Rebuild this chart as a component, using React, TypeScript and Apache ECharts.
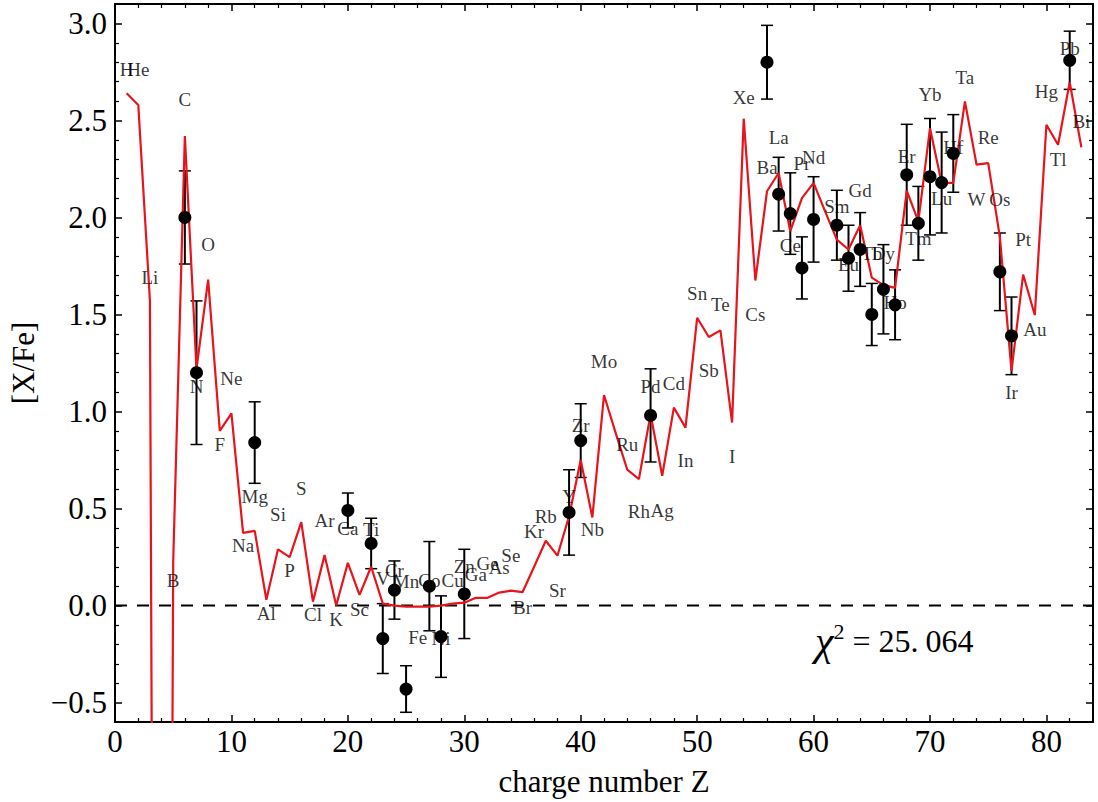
import React, { useEffect, useRef } from "react";
import * as echarts from "echarts";

const elements = ["H","He","Li","Be","B","C","N","O","F","Ne","Na","Mg","Al","Si","P","S","Cl","Ar","K","Ca","Sc","Ti","V","Cr","Mn","Fe","Co","Ni","Cu","Zn","Ga","Ge","As","Se","Br","Kr","Rb","Sr","Y","Zr","Nb","Mo","Tc","Ru","Rh","Pd","Ag","Cd","In","Sn","Sb","Te","I","Xe","Cs","Ba","La","Ce","Pr","Nd","Pm","Sm","Eu","Gd","Tb","Dy","Ho","Er","Tm","Yb","Lu","Hf","Ta","W","Re","Os","Ir","Pt","Au","Hg","Tl","Pb","Bi"];

// model [X/Fe] for Z = 1..83
const modelValues = [
  2.64, 2.58, 1.57, -13, 0.23, 2.42, 1.22, 1.68, 0.90, 0.99,
  0.375, 0.385, 0.03, 0.29, 0.25, 0.43, 0.02, 0.26, 0.0, 0.22,
  0.055, 0.20, 0.01, 0.0, -0.005, -0.005, -0.005, 0.0, 0.01, 0.015,
  0.04, 0.04, 0.067, 0.077, 0.069, 0.20, 0.334, 0.257, 0.46, 0.75,
  0.454, 1.085, 0.89, 0.70, 0.652, 0.986, 0.669, 1.02, 0.917, 1.483,
  1.384, 1.418, 0.943, 2.509, 1.675, 2.135, 2.229, 1.929, 2.10, 2.178,
  2.03, 1.886, 1.835, 1.96, 1.69, 1.651, 1.637, 2.138, 1.98, 2.46,
  2.178, 2.178, 2.598, 2.272, 2.28, 1.90, 1.209, 1.706, 1.497, 2.478,
  2.375, 2.697, 2.361
];

// element label heights (data units); null = no label
const labelY = [
  2.76, 2.76, 1.69, null, 0.13, 2.61, 1.13, 1.86, 0.83, 1.17,
  0.31, 0.56, -0.04, 0.47, 0.18, 0.605, -0.045, 0.44, -0.07, 0.395,
  -0.02, 0.39, 0.14, 0.18, 0.125, -0.165, 0.13, -0.17, 0.13, 0.20,
  0.16, 0.215, 0.195, 0.26, -0.01, 0.38, 0.46, 0.08, 0.56, 0.93,
  0.39, 1.26, null, 0.83, 0.485, 1.13, 0.49, 1.145, 0.745, 1.61,
  1.21, 1.55, 0.77, 2.62, 1.50, 2.26, 2.41, 1.855, 2.28, 2.31,
  null, 2.055, 1.76, 2.14, 1.815, 1.815, 1.56, 2.315, 1.89, 2.635,
  2.10, 2.36, 2.72, 2.09, 2.41, 2.09, 1.10, 1.885, 1.423, 2.65,
  2.30, 2.87, 2.495
];

// observed abundances
const obsZ = [6, 7, 12, 20, 22, 23, 24, 25, 27, 28, 30, 39, 40, 46, 56, 57, 58, 59, 60, 62, 63, 64, 65, 66, 67, 68, 69, 70, 71, 72, 76, 77, 82];
const obsVal = [2.00, 1.20, 0.84, 0.49, 0.32, -0.17, 0.08, -0.43, 0.10, -0.16, 0.06, 0.48, 0.85, 0.98, 2.80, 2.12, 2.02, 1.74, 1.99, 1.96, 1.79, 1.835, 1.50, 1.63, 1.55, 2.22, 1.97, 2.21, 2.18, 2.33, 1.72, 1.39, 2.81];
const obsErr = [0.24, 0.37, 0.21, 0.09, 0.13, 0.18, 0.15, 0.12, 0.23, 0.21, 0.23, 0.22, 0.19, 0.24, 0.19, 0.19, 0.21, 0.16, 0.22, 0.18, 0.17, 0.19, 0.16, 0.23, 0.18, 0.26, 0.19, 0.30, 0.26, 0.20, 0.20, 0.20, 0.15];

const xRange = [0, 84];
const yRange = [-0.6, 3.1];
const chiInt = "25.";
const chiFrac = "064";

const FONT = "Liberation Serif, DejaVu Serif, serif";

export default function App() {
  const ref = useRef<HTMLDivElement>(null);
  useEffect(() => {
    if (!ref.current) return;
    const chart = echarts.init(ref.current, undefined, { renderer: "svg" });

    const modelData = modelValues.map((v, i) => [i + 1, v]);
    const labelData = labelY
      .map((v, i) => (v === null ? null : { value: [i + 1, v], name: elements[i] }))
      .filter((d) => d !== null);
    const obsData = obsZ.map((z, i) => [z, obsVal[i]]);
    const errData = obsZ.map((z, i) => [z, obsVal[i], obsErr[i]]);

    const axisCommon = {
      type: "value",
      axisLine: { show: true, onZero: false, lineStyle: { color: "#000", width: 2 } },
      axisTick: { show: true, inside: true, length: 7, lineStyle: { color: "#000", width: 1.5 } },
      minorTick: { show: true, splitNumber: 5, length: 4, lineStyle: { color: "#000", width: 1.2 } },
      splitLine: { show: false },
      minorSplitLine: { show: false },
    };

    const fmt = (v: number) => v.toFixed(1).replace("-", "\u2212");

    const option: any = {
      animation: false,
      textStyle: { fontFamily: FONT },
      grid: { left: 115, right: 5, top: 4, bottom: 80 },
      xAxis: [
        {
          ...axisCommon,
          min: xRange[0],
          max: xRange[1],
          interval: 10,
          position: "bottom",
          name: "charge number Z",
          nameLocation: "middle",
          nameGap: 44,
          nameTextStyle: { fontFamily: FONT, fontSize: 31, color: "#000" },
          axisLabel: { show: true, margin: 4, fontFamily: FONT, fontSize: 31, color: "#000", showMaxLabel: false },
        },
        {
          ...axisCommon,
          min: xRange[0],
          max: xRange[1],
          interval: 10,
          position: "top",
          axisLabel: { show: false },
        },
      ],
      yAxis: [
        {
          ...axisCommon,
          min: yRange[0],
          max: yRange[1],
          splitNumber: 7,
          position: "left",
          name: "[X/Fe]",
          nameLocation: "middle",
          nameGap: 76,
          nameTextStyle: { fontFamily: FONT, fontSize: 31, color: "#000" },
          axisLabel: {
            show: true,
            margin: 8,
            fontFamily: FONT,
            fontSize: 31,
            color: "#000",
            showMinLabel: false,
            showMaxLabel: false,
            formatter: fmt,
          },
        },
        {
          ...axisCommon,
          min: yRange[0],
          max: yRange[1],
          splitNumber: 7,
          position: "right",
          axisLabel: { show: false },
        },
      ],
      series: [
        {
          type: "line",
          data: [[xRange[0], 0], [xRange[1], 0]],
          showSymbol: false,
          symbol: "none",
          lineStyle: { color: "#000", width: 2, type: [12, 10] },
          z: 1,
          silent: true,
        },
        {
          type: "custom",
          data: errData,
          encode: { x: 0, y: 1 },
          z: 2,
          renderItem: (params: any, api: any) => {
            const x = api.value(0);
            const y = api.value(1);
            const e = api.value(2);
            const top = api.coord([x, y + e]);
            const bot = api.coord([x, y - e]);
            const hw = 6;
            return {
              type: "group",
              children: [
                { type: "line", shape: { x1: top[0], y1: top[1], x2: bot[0], y2: bot[1] }, style: { stroke: "#000", lineWidth: 2 } },
                { type: "line", shape: { x1: top[0] - hw, y1: top[1], x2: top[0] + hw, y2: top[1] }, style: { stroke: "#000", lineWidth: 1.5 } },
                { type: "line", shape: { x1: bot[0] - hw, y1: bot[1], x2: bot[0] + hw, y2: bot[1] }, style: { stroke: "#000", lineWidth: 1.5 } },
              ],
            };
          },
        },
        {
          type: "line",
          data: modelData,
          showSymbol: false,
          symbol: "none",
          clip: true,
          lineStyle: { color: "#e8141c", width: 2.2 },
          z: 3,
        },
        {
          type: "scatter",
          data: obsData,
          symbol: "circle",
          symbolSize: 13,
          itemStyle: { color: "#000", opacity: 1 },
          z: 4,
        },
        {
          type: "scatter",
          data: labelData,
          symbol: "circle",
          symbolSize: 1,
          itemStyle: { color: "rgba(0,0,0,0)" },
          label: {
            show: true,
            position: "inside",
            formatter: (p: any) => p.name,
            fontFamily: FONT,
            fontSize: 19,
            color: "#000",
          },
          z: 5,
          silent: true,
        },
      ],
      graphic: [
        {
          type: "text",
          left: 815,
          top: 620,
          style: {
            text: "{c|χ}{s|2}{e|=}{n|" + chiInt + "}{m|" + chiFrac + "}",
            fontFamily: FONT,
            rich: {
              c: { font: "italic 42px Liberation Serif, DejaVu Serif, serif", fill: "#000" },
              s: { font: "22px Liberation Serif, DejaVu Serif, serif", fill: "#000", verticalAlign: "bottom", padding: [0, 4, 20, 0] },
              e: { font: "32px Liberation Serif, DejaVu Serif, serif", fill: "#000", padding: [0, 8, 0, 4] },
              n: { font: "32px Liberation Serif, DejaVu Serif, serif", fill: "#000" },
              m: { font: "32px Liberation Serif, DejaVu Serif, serif", fill: "#000", padding: [0, 0, 0, 7] },
            },
          },
        },
      ],
    };

    chart.setOption(option);
    return () => chart.dispose();
  }, []);

  return (
    <div
      ref={ref}
      style={{ position: "fixed", left: 0, top: 0, width: 1098, height: 802, background: "#fff" }}
    />
  );
}
